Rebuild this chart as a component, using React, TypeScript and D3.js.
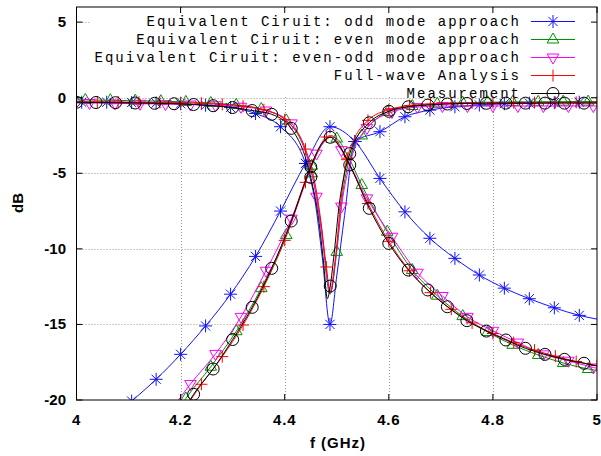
import React from "react";
import * as d3 from "d3";

type Pt = [number, number];

const xTicks = [4, 4.2, 4.4, 4.6, 4.8, 5];
const xTickLabels = ["4", "4.2", "4.4", "4.6", "4.8", "5"];
const yTicks = [5, 0, -5, -10, -15, -20];
const yTickLabels = ["5", "0", "-5", "-10", "-15", "-20"];
const legendLabels = [
  "Equivalent Ciruit: odd mode approach",
  "Equivalent Ciruit: even mode approach",
  "Equivalent Ciruit: even-odd mode approach",
  "Full-wave Analysis",
  "Measurement",
];

// odd mode approach (blue stars)
const oddS11: Pt[] = [
  [4.01, -0.3], [4.058, -0.3], [4.106, -0.32], [4.153, -0.35], [4.2, -0.4],
  [4.248, -0.5], [4.296, -0.65], [4.344, -1.05], [4.392, -1.92], [4.44, -4.35],
  [4.487, -15.0], [4.535, -2.9], [4.583, -2.25], [4.631, -1.26], [4.679, -0.82],
  [4.727, -0.6], [4.774, -0.48], [4.822, -0.4], [4.87, -0.36], [4.918, -0.33], [4.966, -0.3],
];
const oddS11Extra: Pt[] = [
  [4.0, -0.3], [4.458, -6.8], [4.472, -10.5], [4.5, -11.8], [4.515, -7.8], [5.0, -0.3],
];
const oddS21: Pt[] = [
  [4.106, -20.07], [4.153, -18.63], [4.2, -16.98], [4.248, -15.1], [4.296, -13.0],
  [4.344, -10.5], [4.392, -7.5], [4.44, -4.35], [4.487, -1.92], [4.535, -2.9],
  [4.583, -5.34], [4.631, -7.55], [4.679, -9.3], [4.727, -10.63], [4.774, -11.73],
  [4.822, -12.6], [4.87, -13.3], [4.918, -13.9], [4.966, -14.4],
];
const oddS21Extra: Pt[] = [[5.0, -14.65]];

// even mode approach (green triangles)
const evenS11: Pt[] = [
  [4.017, -0.15], [4.065, -0.17], [4.113, -0.2], [4.162, -0.23], [4.21, -0.28],
  [4.258, -0.35], [4.307, -0.48], [4.355, -0.75], [4.403, -1.5], [4.452, -5.0],
  [4.5, -10.2], [4.548, -2.5], [4.597, -0.95], [4.645, -0.55], [4.693, -0.4],
  [4.742, -0.33], [4.79, -0.3], [4.838, -0.28], [4.887, -0.27], [4.935, -0.26], [4.983, -0.26],
];
const evenS11Extra: Pt[] = [
  [4.0, -0.15], [4.47, -8.5], [4.487, -13.0], [4.512, -6.2], [4.527, -3.8], [5.0, -0.26],
];
const evenS21: Pt[] = [
  [4.162, -22.6], [4.21, -19.9], [4.258, -17.8], [4.307, -15.45], [4.355, -12.6],
  [4.403, -9.09], [4.452, -4.5], [4.5, -2.7], [4.548, -5.78], [4.597, -8.87],
  [4.645, -11.4], [4.693, -13.1], [4.742, -14.45], [4.79, -15.5], [4.838, -16.35],
  [4.887, -17.02], [4.935, -17.55], [4.983, -17.95],
];
const evenS21Extra: Pt[] = [[4.472, -3.1], [4.49, -2.6], [4.522, -3.9], [5.0, -18.05]];

// even-odd mode approach (magenta inverted triangles)
const eoS11: Pt[] = [
  [4.025, -0.35], [4.074, -0.38], [4.122, -0.4], [4.171, -0.42], [4.219, -0.45],
  [4.267, -0.5], [4.316, -0.6], [4.364, -0.85], [4.413, -1.7], [4.461, -6.55],
  [4.509, -7.2], [4.558, -2.0], [4.606, -0.95], [4.655, -0.62], [4.703, -0.55],
  [4.751, -0.55], [4.8, -0.55], [4.848, -0.55], [4.897, -0.55], [4.945, -0.55], [4.993, -0.55],
];
const eoS11Extra: Pt[] = [
  [4.0, -0.35], [4.44, -3.6], [4.475, -10.0], [4.487, -12.8], [4.497, -10.8], [4.53, -3.8], [5.0, -0.55],
];
const eoS21: Pt[] = [
  [4.171, -21.2], [4.219, -18.94], [4.267, -16.95], [4.316, -14.5], [4.364, -11.45],
  [4.413, -8.0], [4.461, -3.7], [4.509, -3.47], [4.558, -6.66], [4.606, -9.2],
  [4.655, -11.58], [4.703, -13.12], [4.751, -14.5], [4.8, -15.42], [4.848, -16.2],
  [4.897, -16.98], [4.945, -17.4], [4.993, -17.85],
];
const eoS21Extra: Pt[] = [[4.487, -2.6], [5.0, -17.9]];

// full-wave analysis (red plus)
const fwS11: Pt[] = [
  [4.0, -0.28], [4.04, -0.28], [4.08, -0.29], [4.12, -0.3], [4.16, -0.31], [4.2, -0.33],
  [4.24, -0.37], [4.28, -0.44], [4.32, -0.56], [4.36, -0.8], [4.4, -1.45], [4.44, -3.4],
  [4.48, -11.2], [4.52, -4.0], [4.56, -1.5], [4.6, -0.8], [4.64, -0.52], [4.68, -0.42],
  [4.72, -0.37], [4.76, -0.35], [4.8, -0.34], [4.84, -0.33], [4.88, -0.32], [4.92, -0.32],
  [4.96, -0.31], [5.0, -0.31],
];
const fwS11Extra: Pt[] = [[4.46, -6.0], [4.47, -8.3], [4.488, -12.9], [4.497, -10.8], [4.508, -6.8]];
const fwS21: Pt[] = [
  [4.2, -21.0], [4.24, -18.96], [4.28, -17.13], [4.32, -15.04], [4.36, -12.5], [4.4, -9.44],
  [4.44, -5.6], [4.48, -2.6], [4.52, -4.1], [4.56, -7.0], [4.6, -9.5], [4.64, -11.45],
  [4.68, -12.9], [4.72, -14.0], [4.76, -14.9], [4.8, -15.6], [4.84, -16.2], [4.88, -16.7],
  [4.92, -17.1], [4.96, -17.45], [5.0, -17.72],
];
const fwS21Extra: Pt[] = [[4.46, -3.8], [4.49, -2.5], [4.505, -3.1]];

// measurement (black circles)
const measS11: Pt[] = [
  [4.0, -0.3], [4.0375, -0.32], [4.075, -0.33], [4.1125, -0.35], [4.15, -0.37], [4.1875, -0.4],
  [4.225, -0.45], [4.2625, -0.53], [4.3, -0.65], [4.3375, -0.85], [4.375, -1.1], [4.4125, -2.03],
  [4.45, -5.27], [4.4875, -12.46], [4.525, -3.7], [4.5625, -1.66], [4.6, -0.9], [4.6375, -0.6],
  [4.675, -0.49], [4.7125, -0.42], [4.75, -0.38], [4.7875, -0.37], [4.825, -0.36], [4.8625, -0.36],
  [4.9, -0.36], [4.9375, -0.36], [4.975, -0.36],
];
const measS11Extra: Pt[] = [
  [4.465, -8.0], [4.475, -11.0], [4.482, -13.3], [4.495, -10.3], [4.505, -7.0], [4.515, -5.0], [5.0, -0.36],
];
const measS21: Pt[] = [
  [4.1875, -21.9], [4.225, -19.62], [4.2625, -17.95], [4.3, -16.0], [4.3375, -13.87], [4.375, -11.29],
  [4.4125, -8.16], [4.45, -4.57], [4.4875, -2.62], [4.525, -4.45], [4.5625, -7.32], [4.6, -9.64],
  [4.6375, -11.4], [4.675, -12.72], [4.7125, -13.83], [4.75, -14.75], [4.7875, -15.44], [4.825, -16.03],
  [4.8625, -16.58], [4.9, -16.98], [4.9375, -17.31], [4.975, -17.57],
];
const measS21Extra: Pt[] = [[4.468, -3.2], [4.505, -3.2], [5.0, -17.75]];

const W = 601, H = 456;
const L = 76.5, R = 597, T = 7, B = 400;

type Series = {
  color: string; marker: string;
  curves: { pts: Pt[]; extra: Pt[] }[];
};

const series: Series[] = [
  { color: "#1010ff", marker: "star", curves: [{ pts: oddS11, extra: oddS11Extra }, { pts: oddS21, extra: oddS21Extra }] },
  { color: "#009000", marker: "tri", curves: [{ pts: evenS11, extra: evenS11Extra }, { pts: evenS21, extra: evenS21Extra }] },
  { color: "#ff00ff", marker: "tridown", curves: [{ pts: eoS11, extra: eoS11Extra }, { pts: eoS21, extra: eoS21Extra }] },
  { color: "#ff0000", marker: "plus", curves: [{ pts: fwS11, extra: fwS11Extra }, { pts: fwS21, extra: fwS21Extra }] },
  { color: "#000000", marker: "circle", curves: [{ pts: measS11, extra: measS11Extra }, { pts: measS21, extra: measS21Extra }] },
];

function Marker({ type, x, y, color }: { type: string; x: number; y: number; color: string }) {
  const p = { stroke: color, strokeWidth: 1, fill: "none" };
  if (type === "star") {
    const r = 6.5, d = 4.6;
    return (
      <g {...p}>
        <line x1={x - r} y1={y} x2={x + r} y2={y} />
        <line x1={x} y1={y - r} x2={x} y2={y + r} />
        <line x1={x - d} y1={y - d} x2={x + d} y2={y + d} />
        <line x1={x - d} y1={y + d} x2={x + d} y2={y - d} />
      </g>
    );
  }
  if (type === "plus") {
    const r = 6;
    return (
      <g {...p}>
        <line x1={x - r} y1={y} x2={x + r} y2={y} />
        <line x1={x} y1={y - r} x2={x} y2={y + r} />
      </g>
    );
  }
  if (type === "tri") {
    return <polygon {...p} points={`${x},${y - 6.5} ${x + 5.8},${y + 3.5} ${x - 5.8},${y + 3.5}`} />;
  }
  if (type === "tridown") {
    return <polygon {...p} points={`${x},${y + 6.5} ${x + 5.8},${y - 3.5} ${x - 5.8},${y - 3.5}`} />;
  }
  return <circle {...p} cx={x} cy={y} r={6} />;
}

export default function App() {
  const x = d3.scaleLinear().domain([4, 5]).range([L, R]);
  const y = d3.scaleLinear().domain([-20, 6]).range([B, T]);
  const line = d3
    .line<Pt>()
    .x((d) => x(d[0]))
    .y((d) => y(d[1]))
    .curve(d3.curveMonotoneX);

  const tickFont = { fontFamily: "Liberation Sans, Arial, sans-serif", fontWeight: "bold", fontSize: 15 } as const;
  const legendY = [21.5, 39.5, 57.5, 75.5, 93.5];

  return (
    <svg width={W} height={H} style={{ position: "absolute", left: 0, top: 0, background: "#fff" }}>
      <defs>
        <clipPath id="plot">
          <rect x={L} y={T} width={R - L} height={B - T} />
        </clipPath>
      </defs>

      {/* grid */}
      <g stroke="#999" strokeWidth={1} strokeDasharray="1,2">
        {xTicks.slice(1, -1).map((t) => (
          <line key={"gx" + t} x1={Math.round(x(t)) + 0.5} x2={Math.round(x(t)) + 0.5} y1={T} y2={B} />
        ))}
        {yTicks.slice(0, -1).map((t) => (
          <line key={"gy" + t} x1={L} x2={R} y1={Math.round(y(t)) + 0.5} y2={Math.round(y(t)) + 0.5} />
        ))}
      </g>

      {/* opaque key box */}
      <rect x={90} y={T + 1} width={R - 91} height={89} fill="#fff" />

      {/* curves */}
      <g clipPath="url(#plot)">
        {series.map((s, i) => (
          <g key={i}>
            {s.curves.map((c, j) => {
              const all = [...c.pts, ...c.extra].sort((a, b) => a[0] - b[0]);
              return <path key={j} d={line(all) || ""} fill="none" stroke={s.color} strokeWidth={1} />;
            })}
            {s.curves.map((c, j) =>
              c.pts.map((d, k) => (
                <Marker key={j + "-" + k} type={s.marker} x={x(d[0])} y={y(d[1])} color={s.color} />
              ))
            )}
          </g>
        ))}
      </g>

      {/* legend */}
      {legendLabels.map((lab, i) => (
        <g key={lab}>
          <text
            x={521}
            y={legendY[i] + 4.5}
            textAnchor="end"
            fontFamily="Liberation Mono, monospace"
            fontSize={14}
            letterSpacing={2}
            fill="#000"
          >
            {lab}
          </text>
          <line x1={531} x2={575} y1={legendY[i]} y2={legendY[i]} stroke={series[i].color} strokeWidth={1} />
          <Marker type={series[i].marker} x={553} y={legendY[i]} color={series[i].color} />
        </g>
      ))}

      {/* ticks */}
      <g stroke="#000" strokeWidth={1}>
        {xTicks.map((t) => (
          <g key={"tx" + t}>
            <line x1={x(t)} x2={x(t)} y1={B} y2={B - 6} />
            <line x1={x(t)} x2={x(t)} y1={T} y2={T + 6} />
          </g>
        ))}
        {yTicks.map((t) => (
          <g key={"ty" + t}>
            <line x1={L} x2={L + 6} y1={y(t)} y2={y(t)} />
            <line x1={R} x2={R - 6} y1={y(t)} y2={y(t)} />
          </g>
        ))}
      </g>

      {/* border */}
      <rect x={L} y={T} width={R - L} height={B - T} fill="none" stroke="#000" strokeWidth={1} />

      {/* tick labels */}
      {xTicks.map((t, i) => (
        <text key={"lx" + t} x={x(t)} y={425} textAnchor="middle" letterSpacing={0.8} {...tickFont}>
          {xTickLabels[i]}
        </text>
      ))}
      {yTicks.map((t, i) => (
        <text key={"ly" + t} x={66} y={y(t) + 5} textAnchor="end" {...tickFont}>
          {yTickLabels[i]}
        </text>
      ))}

      {/* axis titles */}
      <text x={338} y={448} textAnchor="middle" letterSpacing={1} {...tickFont}>
        f (GHz)
      </text>
      <text transform="translate(23,203) rotate(-90)" textAnchor="middle" {...tickFont}>
        dB
      </text>
    </svg>
  );
}
